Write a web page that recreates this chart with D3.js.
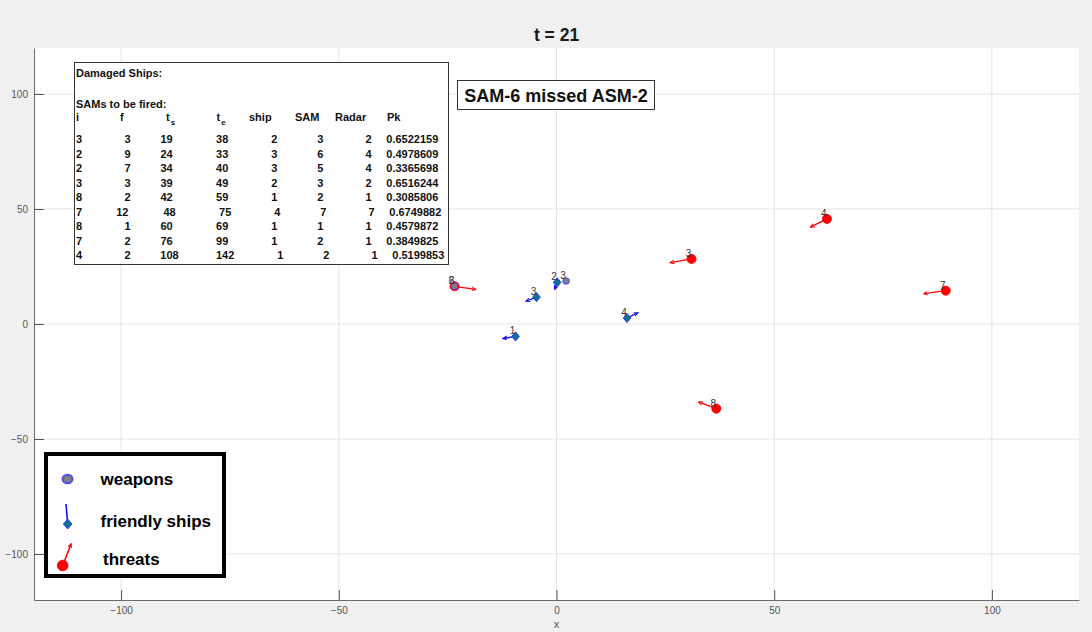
<!DOCTYPE html>
<html>
<head>
<meta charset="utf-8">
<script src="https://cdn.jsdelivr.net/npm/d3@7"></script>
<style>
  html, body { margin: 0; padding: 0; background: #f0f0f0; }
  svg { display: block; font-family: "Liberation Sans", Arial, Helvetica, sans-serif; }
</style>
</head>
<body>
<div id="chart"></div>
<script>
// ---- data ----
const titleText = 't = 21'
const messageText = 'SAM-6 missed ASM-2'
const xTicks = [-100, -50, 0, 50, 100]
const yTicks = [-100, -50, 0, 50, 100]

// threats (ASMs): position and heading vector
const threatIds = [3, 4, 7, 8, 2]
const threatX = [31.0, 62.1, 89.4, 36.7, -23.4]
const threatY = [28.3, 45.7, 14.5, -36.8, 16.4]
const threatU = [-4.8, -3.7, -5.0, -4.0, 4.8]
const threatV = [-1.6, -3.5, -1.3, 2.8, -1.3]

// friendly ships
const shipIds = [1, 2, 3, 4]
const shipX = [-9.4, 0.15, -4.6, 16.2]
const shipY = [-5.4, 18.1, 11.7, 2.6]
const shipU = [-2.8, -0.5, -2.3, 2.4]
const shipV = [-0.9, -2.9, -1.7, 2.2]

// weapons in flight (SAMs)
const weaponIds = [3, 6]
const weaponX = [2.2, -23.4]
const weaponY = [18.7, 16.4]

// SAM schedule table
const tableHeaders = ['i', 'f', 't|s', 't|e', 'ship', 'SAM', 'Radar', 'Pk']
const samI = [3, 2, 2, 3, 8, 7, 8, 7, 4]
const samF = [3, 9, 7, 3, 2, 12, 1, 2, 2]
const samTs = [19, 24, 34, 39, 42, 48, 60, 76, 108]
const samTe = [38, 33, 40, 49, 59, 75, 69, 99, 142]
const samShip = [2, 3, 3, 2, 1, 4, 1, 1, 1]
const samSam = [3, 6, 5, 3, 2, 7, 1, 2, 2]
const samRadar = [2, 4, 4, 2, 1, 7, 1, 1, 1]
const samPk = ['0.6522159', '0.4978609', '0.3365698', '0.6516244', '0.3085806',
  '0.6749882', '0.4579872', '0.3849825', '0.5199853']

const legendLabels = ['weapons', 'friendly ships', 'threats']

// ---- layout ----
const width = 1092
const height = 632
const plot = { left: 34, right: 1079, top: 48, bottom: 600 }

const svg = d3.select('#chart').append('svg')
  .attr('width', width)
  .attr('height', height)

svg.append('rect').attr('width', width).attr('height', height).attr('fill', '#f0f0f0')
svg.append('rect')
  .attr('x', plot.left).attr('y', plot.top)
  .attr('width', plot.right - plot.left).attr('height', plot.bottom - plot.top)
  .attr('fill', '#ffffff')

const x = d3.scaleLinear().domain([-120, 120]).range([plot.left, plot.right])
const y = d3.scaleLinear().domain([-120, 120]).range([plot.bottom, plot.top])

// arrow heads for the heading vectors
const defs = svg.append('defs')
function addArrow(id, color) {
  defs.append('marker')
    .attr('id', id)
    .attr('viewBox', '0 0 8 8')
    .attr('refX', 6).attr('refY', 4)
    .attr('markerWidth', 5).attr('markerHeight', 5)
    .attr('markerUnits', 'userSpaceOnUse')
    .attr('orient', 'auto')
    .append('path')
    .attr('d', 'M0,1 L7,4 L0,7')
    .attr('fill', 'none')
    .attr('stroke', color)
    .attr('stroke-width', 1.5)
}
addArrow('arrow-red', '#ff0000')
addArrow('arrow-blue', '#0000ff')
addArrow('arrow-red-big', '#ff0000')

// grid
const grid = svg.append('g').attr('class', 'grid')
grid.selectAll('line.gx').data(xTicks).enter().append('line')
  .attr('x1', (d) => x(d)).attr('x2', (d) => x(d))
  .attr('y1', plot.top).attr('y2', plot.bottom)
  .attr('stroke', '#e3e3e3').attr('stroke-width', 1)
grid.selectAll('line.gy').data(yTicks).enter().append('line')
  .attr('y1', (d) => y(d)).attr('y2', (d) => y(d))
  .attr('x1', plot.left).attr('x2', plot.right)
  .attr('stroke', '#e3e3e3').attr('stroke-width', 1)

// axes (ticks point inward, no box)
const xAxis = svg.append('g')
  .attr('transform', `translate(0,${plot.bottom})`)
  .call(d3.axisBottom(x).tickValues(xTicks).tickSizeInner(-10).tickSizeOuter(0).tickPadding(7))
const yAxis = svg.append('g')
  .attr('transform', `translate(${plot.left},0)`)
  .call(d3.axisLeft(y).tickValues(yTicks).tickSizeInner(-10).tickSizeOuter(0).tickPadding(6))

;[xAxis, yAxis].forEach((ax) => {
  ax.select('.domain').attr('stroke', '#6b6b6b')
  ax.selectAll('.tick line').attr('stroke', '#555')
  ax.selectAll('.tick text')
    .attr('fill', '#555')
    .attr('font-size', '10px')
    .attr('font-family', '"Liberation Sans", Arial, sans-serif')
})

svg.append('text')
  .attr('x', x(0)).attr('y', 628)
  .attr('text-anchor', 'middle')
  .attr('font-size', '11px').attr('fill', '#555')
  .text('x')

svg.append('text')
  .attr('x', x(0)).attr('y', 40.5)
  .attr('text-anchor', 'middle')
  .attr('font-size', '17.5px').attr('font-weight', 'bold').attr('fill', '#1a1a1a')
  .text(titleText)

// ---- marks ----
const threats = threatIds.map((id, i) => ({ id, x: threatX[i], y: threatY[i], u: threatU[i], v: threatV[i] }))
const ships = shipIds.map((id, i) => ({ id, x: shipX[i], y: shipY[i], u: shipU[i], v: shipV[i] }))
const weapons = weaponIds.map((id, i) => ({ id, x: weaponX[i], y: weaponY[i] }))

const marks = svg.append('g').attr('class', 'marks')

// heading vectors
marks.selectAll('line.threat-vec').data(threats).enter().append('line')
  .attr('x1', (d) => x(d.x)).attr('y1', (d) => y(d.y))
  .attr('x2', (d) => x(d.x + d.u)).attr('y2', (d) => y(d.y + d.v))
  .attr('stroke', '#ff0000').attr('stroke-width', 1.3)
  .attr('marker-end', 'url(#arrow-red)')

marks.selectAll('line.ship-vec').data(ships).enter().append('line')
  .attr('x1', (d) => x(d.x)).attr('y1', (d) => y(d.y))
  .attr('x2', (d) => x(d.x + d.u)).attr('y2', (d) => y(d.y + d.v))
  .attr('stroke', '#0000ff').attr('stroke-width', 1.3)
  .attr('marker-end', 'url(#arrow-blue)')

// threats
marks.selectAll('circle.threat').data(threats).enter().append('circle')
  .attr('cx', (d) => x(d.x)).attr('cy', (d) => y(d.y))
  .attr('r', 4.5)
  .attr('fill', '#ff0000').attr('stroke', '#ff0000')

// ships (diamonds)
const diamond = (w, h) => `M0,${-h} L${w},0 L0,${h} L${-w},0 Z`
marks.selectAll('path.ship').data(ships).enter().append('path')
  .attr('transform', (d) => `translate(${x(d.x)},${y(d.y)})`)
  .attr('d', diamond(3.8, 4.6))
  .attr('fill', '#13708a').attr('stroke', '#2a3cff').attr('stroke-width', 1)

// weapons
marks.selectAll('circle.weapon').data(weapons).enter().append('circle')
  .attr('cx', (d) => x(d.x)).attr('cy', (d) => y(d.y))
  .attr('r', 3.3)
  .attr('fill', '#7f7f8c').attr('stroke', '#4a4aff').attr('stroke-width', 1)

// id labels
const allLabels = threats.concat(ships, weapons)
marks.selectAll('text.id').data(allLabels).enter().append('text')
  .attr('x', (d) => x(d.x) - 3)
  .attr('y', (d) => y(d.y) - 5.5)
  .attr('text-anchor', 'middle')
  .attr('dominant-baseline', 'central')
  .attr('font-size', '10px').attr('fill', '#333')
  .text((d) => d.id)

// ---- message box ----
const msg = svg.append('g')
msg.append('rect')
  .attr('x', 457.5).attr('y', 80.5).attr('width', 197).attr('height', 29)
  .attr('fill', '#fff').attr('stroke', '#333').attr('stroke-width', 1)
msg.append('text')
  .attr('x', 556).attr('y', 96)
  .attr('text-anchor', 'middle').attr('dominant-baseline', 'central')
  .attr('font-size', '18px').attr('font-weight', 'bold').attr('fill', '#111')
  .text(messageText)

// ---- SAM table ----
const tbl = svg.append('g').attr('font-size', '11px').attr('font-weight', 'bold').attr('fill', '#111')
tbl.append('rect')
  .attr('x', 74.5).attr('y', 62.5).attr('width', 374).attr('height', 202)
  .attr('fill', '#fff').attr('stroke', '#333').attr('stroke-width', 1)
tbl.append('text').attr('x', 76).attr('y', 76.5).text('Damaged Ships:')
tbl.append('text').attr('x', 76).attr('y', 108).text('SAMs to be fired:')

const headerX = [76, 120, 166, 216.5, 249, 295, 335, 387]
tableHeaders.forEach((h, c) => {
  const parts = h.split('|')
  const t = tbl.append('text').attr('x', headerX[c]).attr('y', 121)
  t.append('tspan').text(parts[0])
  if (parts[1]) {
    t.append('tspan').attr('dy', 4).attr('dx', 1).attr('font-size', '8px').text(parts[1])
  }
})

const rows = samI.map((v, i) => [v, samF[i], samTs[i], samTe[i], samShip[i], samSam[i], samRadar[i], samPk[i]])
// right edges of the number columns (first column is left aligned)
const colRight = [null, 130.5, 172.7, 228.3, 277.3, 323.3, 371.7, 438.3]
const baseLen = [1, 1, 2, 2, 1, 1, 1, 9]
rows.forEach((row, r) => {
  const extra = d3.sum(row, (v, c) => String(v).length - baseLen[c])
  const rowY = 143 + r * 14.5
  row.forEach((v, c) => {
    const t = tbl.append('text').attr('y', rowY).text(v)
    if (c === 0) {
      t.attr('x', 76)
    } else {
      const shift = c >= 2 ? extra * 3 : -2 * (String(v).length - baseLen[c])
      t.attr('x', colRight[c] + shift).attr('text-anchor', 'end')
    }
  })
})

// ---- legend ----
const lg = svg.append('g')
lg.append('rect')
  .attr('x', 46).attr('y', 454).attr('width', 178).attr('height', 122)
  .attr('fill', '#fff').attr('stroke', '#000').attr('stroke-width', 4)

lg.append('ellipse')
  .attr('cx', 67.5).attr('cy', 479).attr('rx', 5).attr('ry', 4.3)
  .attr('fill', '#7f7f7f').attr('stroke', '#4a4aff').attr('stroke-width', 2)

lg.append('line')
  .attr('x1', 66).attr('y1', 504).attr('x2', 67.5).attr('y2', 522)
  .attr('stroke', '#0000ff').attr('stroke-width', 1.5)
lg.append('path')
  .attr('transform', 'translate(67.7,524)')
  .attr('d', diamond(4.3, 5))
  .attr('fill', '#13708a').attr('stroke', '#2a3cff').attr('stroke-width', 1)

lg.append('line')
  .attr('x1', 63).attr('y1', 565).attr('x2', 71).attr('y2', 544)
  .attr('stroke', '#ff0000').attr('stroke-width', 1.6)
  .attr('marker-end', 'url(#arrow-red-big)')
lg.append('circle')
  .attr('cx', 62.7).attr('cy', 565.5).attr('r', 5.3)
  .attr('fill', '#ff0000').attr('stroke', '#ff0000')

const legendX = [100.5, 100.5, 103]
const legendY = [479, 521, 559]
lg.selectAll('text.leg').data(legendLabels).enter().append('text')
  .attr('x', (d, i) => legendX[i])
  .attr('y', (d, i) => legendY[i])
  .attr('dominant-baseline', 'central')
  .attr('font-size', '17px').attr('font-weight', 'bold').attr('fill', '#000')
  .text((d) => d)
</script>
</body>
</html>
